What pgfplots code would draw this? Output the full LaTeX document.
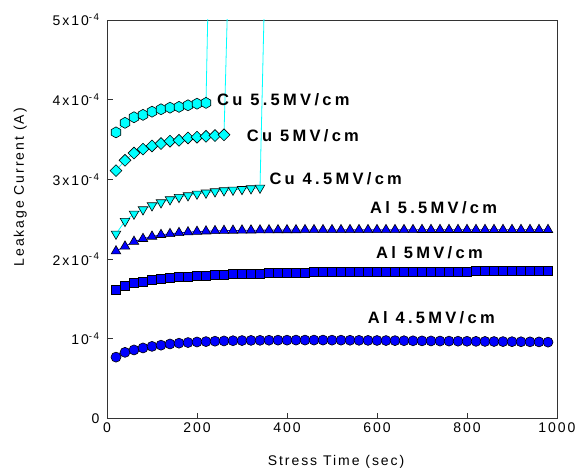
\documentclass[border=0pt]{standalone}
\usepackage{fontspec}
\setmainfont{Liberation Sans}[LetterSpace=14]
\newfontfamily\annfont{Liberation Sans}[LetterSpace=20]
\usepackage{pgfplots}
\pgfplotsset{compat=1.18}
\pgfdeclareplotmark{hexagon*}{%
  \pgfpathmoveto{\pgfpointpolar{90}{\pgfplotmarksize}}%
  \pgfpathlineto{\pgfpointpolar{150}{\pgfplotmarksize}}%
  \pgfpathlineto{\pgfpointpolar{210}{\pgfplotmarksize}}%
  \pgfpathlineto{\pgfpointpolar{270}{\pgfplotmarksize}}%
  \pgfpathlineto{\pgfpointpolar{330}{\pgfplotmarksize}}%
  \pgfpathlineto{\pgfpointpolar{30}{\pgfplotmarksize}}%
  \pgfpathclose
  \pgfusepathqfillstroke}
\definecolor{cuc}{RGB}{0,255,255}
\definecolor{alc}{RGB}{0,0,255}
\begin{document}
\begin{tikzpicture}
\path[use as bounding box] (-107pt,-56pt) rectangle (468pt,418.5pt);
\begin{axis}[
  scale only axis, width=450pt, height=398.5pt,
  xmin=0, xmax=1000, ymin=0, ymax=5,
  axis line style={black!80, line width=0.8pt},
  tick align=inside, xtick pos=bottom, ytick pos=left,
  major tick length=6pt,
  tick style={black!80, line width=0.8pt},
  /pgf/number format/assume math mode=true,
  /pgf/number format/1000 sep={},
  xtick={0,200,400,600,800,1000},
  ytick={0,1,2,3,4,5},
  yticklabels={0,{10\textsuperscript{-4}},{2x10\textsuperscript{-4}},{3x10\textsuperscript{-4}},{4x10\textsuperscript{-4}},{5x10\textsuperscript{-4}}},
  xticklabel style={font=\fontsize{14}{16}\selectfont, yshift=-1pt},
  yticklabel style={font=\fontsize{14}{16}\selectfont, xshift=-4pt},
  scaled ticks=false,
  xlabel={Stress Time (sec)},
  ylabel={Leakage Current (A)},
  every axis x label/.style={at={(axis description cs:0.509,-0.108)}, anchor=center, font=\fontsize{14}{16}\selectfont},
  every axis y label/.style={at={(axis description cs:-0.193,0.58)}, rotate=90, anchor=center, font=\fontsize{14}{16}\selectfont},
]
% Al 4.5 MV/cm
\addplot[alc, line width=0.8pt, mark=*, mark size=5pt, mark options={fill=alc, draw=black, line width=0.6pt}] coordinates {
(20,0.77)(40,0.83)(60,0.86)(80,0.885)(100,0.905)(120,0.92)(140,0.935)(160,0.945)(180,0.953)(200,0.96)
(220,0.965)(240,0.97)(260,0.973)(280,0.976)(300,0.978)(320,0.98)(340,0.981)(360,0.982)(380,0.983)(400,0.983)
(420,0.984)(440,0.984)(460,0.984)(480,0.984)(500,0.983)(520,0.983)(540,0.982)(560,0.981)(580,0.980)(600,0.979)
(620,0.978)(640,0.977)(660,0.976)(680,0.975)(700,0.974)(720,0.973)(740,0.972)(760,0.971)(780,0.970)(800,0.969)
(820,0.968)(840,0.967)(860,0.966)(880,0.965)(900,0.964)(920,0.963)(940,0.962)(960,0.961)(980,0.958)};
% Al 5 MV/cm
\addplot[alc, line width=0.8pt, mark=square*, mark size=4.5pt, mark options={fill=alc, draw=black, line width=0.6pt}] coordinates {
(20,1.62)(40,1.67)(60,1.70)(80,1.72)(100,1.74)(120,1.752)(140,1.765)(160,1.773)(180,1.782)(200,1.79)
(220,1.795)(240,1.80)(260,1.805)(280,1.81)(300,1.814)(320,1.818)(340,1.821)(360,1.824)(380,1.827)(400,1.829)
(420,1.831)(440,1.833)(460,1.835)(480,1.836)(500,1.837)(520,1.838)(540,1.839)(560,1.840)(580,1.841)(600,1.842)
(620,1.842)(640,1.843)(660,1.843)(680,1.844)(700,1.844)(720,1.845)(740,1.845)(760,1.846)(780,1.846)(800,1.846)
(820,1.847)(840,1.847)(860,1.847)(880,1.848)(900,1.848)(920,1.848)(940,1.848)(960,1.849)(980,1.849)};
% Al 5.5 MV/cm
\addplot[alc, line width=0.8pt, mark=triangle*, mark size=5.5pt, mark options={fill=alc, draw=black, line width=0.6pt}] coordinates {
(20,2.10)(40,2.16)(60,2.22)(80,2.255)(100,2.284)(120,2.305)(140,2.317)(160,2.33)(180,2.338)(200,2.345)
(220,2.35)(240,2.354)(260,2.357)(280,2.359)(300,2.361)(320,2.362)(340,2.363)(360,2.364)(380,2.365)(400,2.365)
(420,2.365)(440,2.366)(460,2.366)(480,2.366)(500,2.366)(520,2.366)(540,2.367)(560,2.367)(580,2.367)(600,2.367)
(620,2.367)(640,2.367)(660,2.367)(680,2.367)(700,2.368)(720,2.368)(740,2.368)(760,2.368)(780,2.368)(800,2.368)
(820,2.368)(840,2.368)(860,2.368)(880,2.368)(900,2.368)(920,2.368)(940,2.368)(960,2.368)(980,2.368)};
% Cu 4.5 MV/cm
\addplot[cuc, line width=0.8pt, mark=triangle*, mark size=5.5pt, mark options={rotate=180, fill=cuc, draw=black, line width=0.6pt}] coordinates {
(20,2.317)(40,2.476)(60,2.568)(80,2.622)(100,2.672)(120,2.710)(140,2.748)(160,2.777)(180,2.798)(200,2.819)
(220,2.832)(240,2.848)(260,2.861)(280,2.869)(300,2.877)(320,2.886)(340,2.894)(360,7.75)};
% Cu 5 MV/cm
\addplot[cuc, line width=0.8pt, mark=square*, mark size=4.2pt, mark options={rotate=45, fill=cuc, draw=black, line width=0.6pt}] coordinates {
(20,3.11)(40,3.24)(60,3.33)(80,3.38)(100,3.42)(120,3.45)(140,3.48)(160,3.49)(180,3.52)(200,3.53)
(220,3.54)(240,3.55)(260,3.56)(280,7.7)};
% Cu 5.5 MV/cm
\addplot[cuc, line width=0.8pt, mark=hexagon*, mark size=5.5pt, mark options={fill=cuc, draw=black, line width=0.6pt}] coordinates {
(20,3.59)(40,3.71)(60,3.78)(80,3.81)(100,3.85)(120,3.88)(140,3.90)(160,3.91)(180,3.93)(200,3.95)
(220,3.96)(240,9.5)};
\begin{scope}[every node/.style={anchor=base west, inner sep=0pt, font=\fontsize{16.5}{18}\selectfont\annfont\bfseries}]
\node at (axis cs:244.4,3.927) {Cu 5.5MV/cm};
\node at (axis cs:310.4,3.476) {Cu 5MV/cm};
\node at (axis cs:360.7,2.936) {Cu 4.5MV/cm};
\node at (axis cs:584.4,2.566) {Al 5.5MV/cm};
\node at (axis cs:597.8,2.008) {Al 5MV/cm};
\node at (axis cs:579.3,1.198) {Al 4.5MV/cm};
\end{scope}
\end{axis}
\end{tikzpicture}
\end{document}
